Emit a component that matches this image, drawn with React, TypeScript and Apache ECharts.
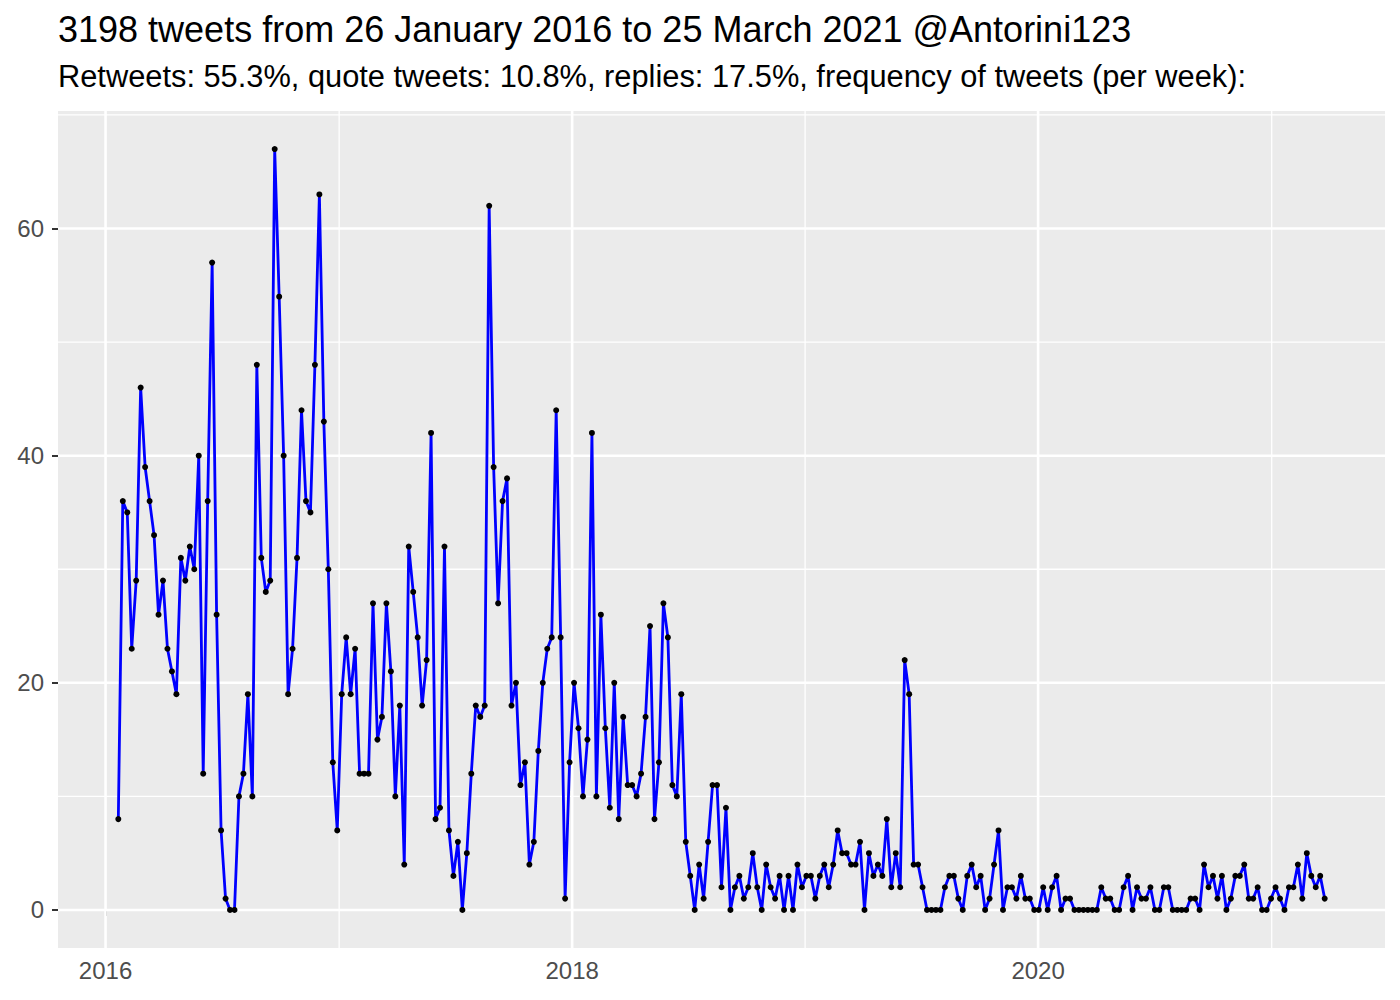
import React, { useEffect, useRef } from "react";
import * as echarts from "echarts";

const titleText = "3198 tweets from 26 January 2016 to 25 March 2021 @Antorini123";
const subtitleText =
  "Retweets: 55.3%, quote tweets: 10.8%, replies: 17.5%, frequency of tweets (per week):";

// first weekly bin (Thursday) and weekly tweet counts
const firstWeek = [2016, 0, 21];
const counts = [
  8, 36, 35, 23, 29, 46, 39, 36, 33, 26,
  29, 23, 21, 19, 31, 29, 32, 30, 40, 12,
  36, 57, 26, 7, 1, 0, 0, 10, 12, 19,
  10, 48, 31, 28, 29, 67, 54, 40, 19, 23,
  31, 44, 36, 35, 48, 63, 43, 30, 13, 7,
  19, 24, 19, 23, 12, 12, 12, 27, 15, 17,
  27, 21, 10, 18, 4, 32, 28, 24, 18, 22,
  42, 8, 9, 32, 7, 3, 6, 0, 5, 12,
  18, 17, 18, 62, 39, 27, 36, 38, 18, 20,
  11, 13, 4, 6, 14, 20, 23, 24, 44, 24,
  1, 13, 20, 16, 10, 15, 42, 10, 26, 16,
  9, 20, 8, 17, 11, 11, 10, 12, 17, 25,
  8, 13, 27, 24, 11, 10, 19, 6, 3, 0,
  4, 1, 6, 11, 11, 2, 9, 0, 2, 3,
  1, 2, 5, 2, 0, 4, 2, 1, 3, 0,
  3, 0, 4, 2, 3, 3, 1, 3, 4, 2,
  4, 7, 5, 5, 4, 4, 6, 0, 5, 3,
  4, 3, 8, 2, 5, 2, 22, 19, 4, 4,
  2, 0, 0, 0, 0, 2, 3, 3, 1, 0,
  3, 4, 2, 3, 0, 1, 4, 7, 0, 2,
  2, 1, 3, 1, 1, 0, 0, 2, 0, 2,
  3, 0, 1, 1, 0, 0, 0, 0, 0, 0,
  2, 1, 1, 0, 0, 2, 3, 0, 2, 1,
  1, 2, 0, 0, 2, 2, 0, 0, 0, 0,
  1, 1, 0, 4, 2, 3, 1, 3, 0, 1,
  3, 3, 4, 1, 1, 2, 0, 0, 1, 2,
  1, 0, 2, 2, 4, 1, 5, 3, 2, 3,
  1,
];

const yMajor = [0, 20, 40, 60];
const yMinor = [10, 30, 50, 70];
const xMajorYears = [2016, 2018, 2020];
const xMinorYears = [2017, 2019, 2021];

const DAY = 86400000;

export default function App() {
  const ref = useRef<HTMLDivElement>(null);

  useEffect(() => {
    document.body.style.margin = "0";
    const chart = echarts.init(ref.current as HTMLDivElement, null, { renderer: "svg" });

    const t0 = Date.UTC(firstWeek[0], firstWeek[1], firstWeek[2]);
    const points = counts.map((c, i) => [t0 + i * 7 * DAY, c]);
    const tLast = points[points.length - 1][0];
    const xSpan = tLast - t0;
    const xMin = t0 - 0.05 * xSpan;
    const xMax = tLast + 0.05 * xSpan;
    const yTop = Math.max(...counts);
    const yMin = -0.05 * yTop;
    const yMax = yTop * 1.05;

    const yearTs = (y: number) => Date.UTC(y, 0, 1);
    const font = "Liberation Sans, Arial, Helvetica, sans-serif";

    const gridSeries = (data: number[][], width: number) => ({
      type: "line",
      data,
      silent: true,
      showSymbol: false,
      symbol: "none",
      z: 1,
      lineStyle: { color: "#ffffff", width },
      emphasis: { disabled: true },
    });

    const series: any[] = [
      ...yMinor.map((v) => gridSeries([[xMin, v], [xMax, v]], 1.3)),
      ...xMinorYears.map((y) => gridSeries([[yearTs(y), yMin], [yearTs(y), yMax]], 1.3)),
      ...yMajor.map((v) => gridSeries([[xMin, v], [xMax, v]], 2.6)),
      ...xMajorYears.map((y) => gridSeries([[yearTs(y), yMin], [yearTs(y), yMax]], 2.6)),
      {
        type: "line",
        data: points,
        z: 10,
        showAllSymbol: true,
        symbol: "circle",
        symbolSize: 6,
        itemStyle: { color: "#000000", borderWidth: 0 },
        lineStyle: { color: "#0000FF", width: 2.8 },
      },
    ];

    chart.setOption({
      animation: false,
      graphic: [
        {
          type: "text",
          left: 58,
          top: 11,
          style: { text: titleText, font: `36px ${font}`, fill: "#000000" },
        },
        {
          type: "text",
          left: 58,
          top: 61,
          style: { text: subtitleText, font: `30.8px ${font}`, fill: "#000000" },
        },
      ],
      grid: {
        left: 58,
        right: 15,
        top: 111,
        bottom: 52,
        show: true,
        backgroundColor: "#EBEBEB",
        borderWidth: 0,
        containLabel: false,
      },
      xAxis: {
        type: "value",
        min: xMin,
        max: xMax,
        axisLine: { show: false },
        splitLine: { show: false },
        axisTick: {
          show: true,
          length: 6,
          customValues: xMajorYears.map(yearTs),
          lineStyle: { color: "#333333", width: 2 },
        },
        axisLabel: {
          show: true,
          customValues: xMajorYears.map(yearTs),
          formatter: (v: number) => String(new Date(v).getUTCFullYear()),
          color: "#4D4D4D",
          fontSize: 24,
          fontFamily: font,
          margin: 10,
        },
      },
      yAxis: {
        type: "value",
        min: yMin,
        max: yMax,
        axisLine: { show: false },
        splitLine: { show: false },
        axisTick: {
          show: true,
          length: 6,
          customValues: yMajor,
          lineStyle: { color: "#333333", width: 2 },
        },
        axisLabel: {
          show: true,
          customValues: yMajor,
          color: "#4D4D4D",
          fontSize: 24,
          fontFamily: font,
          margin: 14,
        },
      },
      series,
    });

    return () => chart.dispose();
  }, []);

  return <div ref={ref} style={{ width: 1400, height: 1000 }} />;
}
